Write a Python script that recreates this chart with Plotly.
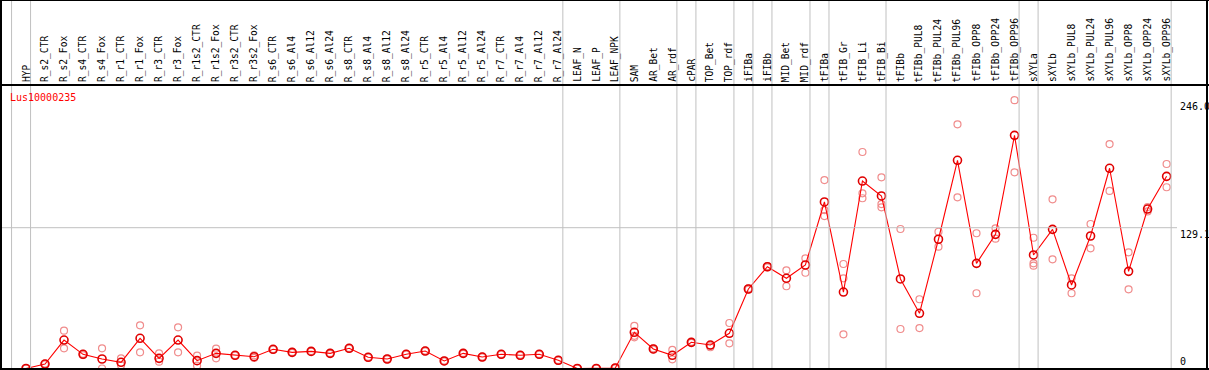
import plotly.graph_objects as go

W, H = 1209, 370

categories = ["HYP", "R_s2_CTR", "R_s2_Fox", "R_s4_CTR", "R_s4_Fox", "R_r1_CTR", "R_r1_Fox",
              "R_r3_CTR", "R_r3_Fox", "R_r1s2_CTR", "R_r1s2_Fox", "R_r3s2_CTR", "R_r3s2_Fox",
              "R_s6_CTR", "R_s6_Al4", "R_s6_Al12", "R_s6_Al24", "R_s8_CTR", "R_s8_Al4",
              "R_s8_Al12", "R_s8_Al24", "R_r5_CTR", "R_r5_Al4", "R_r5_Al12", "R_r5_Al24",
              "R_r7_CTR", "R_r7_Al4", "R_r7_Al12", "R_r7_Al24", "LEAF_N", "LEAF_P", "LEAF_NPK",
              "SAM", "AR_Bet", "AR_rdf", "cPAR", "TOP_Bet", "TOP_rdf", "iFIBa", "iFIBb",
              "MID_Bet", "MID_rdf", "tFIBa", "tFIB_Gr", "tFIB_Li", "tFIB_Bi", "tFIBb",
              "tFIBb_PUL8", "tFIBb_PUL24", "tFIBb_PUL96", "tFIBb_OPP8", "tFIBb_OPP24", "tFIBb_OPP96",
              "sXYLa", "sXYLb", "sXYLb_PUL8", "sXYLb_PUL24", "sXYLb_PUL96", "sXYLb_OPP8",
              "sXYLb_OPP24", "sXYLb_OPP96"]

mean_values = [0.0, 4.1, 26.1, 13.0, 8.7, 5.7, 27.7, 9.3, 26.1, 7.2, 13.9, 12.1, 10.8,
               17.6, 14.8, 15.7, 13.9, 18.5, 10.3, 8.7, 13.0, 16.0, 6.9, 13.9, 10.5,
               13.0, 12.1, 13.0, 7.5, 0.0, 0.0, 0.5,
               33.2, 17.9, 12.1, 24.0, 21.5, 32.3, 72.9, 93.3, 82.7, 94.9,
               152.7, 70.1, 171.9, 158.2, 82.1,
               50.6, 118.5, 190.9, 96.4, 123.0, 213.8,
               104.1, 127.6, 76.6, 121.5, 183.6, 89.1, 146.2, 176.2]

rep_a = [0.0, 4.5, 34.7, 13.5, 18.5, 9.3, 39.6, 13.9, 37.8, 11.8, 18.2, 12.4, 12.0,
         17.9, 15.2, 16.0, 14.3, 18.9, 10.7, 9.1, 13.4, 16.4, 7.3, 14.3, 10.9,
         13.4, 12.5, 13.4, 7.9, 0.0, 0.0, 0.8,
         39.0, 18.5, 17.0, 24.5, 19.5, 41.7, 73.4, 93.8, 90.0, 101.0,
         172.8, 95.8, 198.5, 175.3, 127.9,
         63.5, 125.4, 223.9, 124.0, 128.5, 246.0,
         119.9, 155.1, 82.7, 132.5, 205.8, 106.5, 148.0, 187.5]

rep_b = [0.0, 3.7, 18.5, 12.3, 0.0, 2.9, 14.8, 6.3, 14.8, 2.6, 9.3, 11.8, 9.7,
         17.3, 14.4, 15.4, 13.5, 18.1, 9.9, 8.3, 12.6, 15.6, 6.5, 13.5, 10.1,
         12.6, 11.7, 12.6, 7.1, 0.0, 0.0, 0.2,
         28.6, 17.3, 8.4, 23.5, 21.0, 23.1, 72.4, 92.8, 75.4, 87.8,
         139.8, 31.3, 156.1, 147.8, 36.2,
         37.1, 111.7, 157.0, 69.0, 119.0, 179.9,
         96.4, 100.1, 69.0, 110.2, 162.8, 72.6, 144.0, 166.2]

rep_c = [None] * 32 + [30.0] + [None] * 9 + [145.3, 82.7, 160.6, 150.8] + [None] * 7 + [94.3] + [None] * 7

group_ends = [-1, 0, 28, 31, 34, 35, 37, 38, 39, 41, 42, 45, 52, 53, 60]
axis_marks = [246.0, 129.1, 0.0]
gene_id = "Lus10000235"

# pixel geometry helpers (layout only)
X0, DX = 26.0, 19.01
Y0, DY = 368.5, 1.0906
x_range = [-X0 / DX, (W - X0) / DX]
y_range = [(Y0 - H) / DY, Y0 / DY]


def px(v):
    return v / W


def py(v):
    return 1 - v / H


idx = list(range(len(categories)))
fig = go.Figure()

for reps in (rep_a, rep_b, rep_c):
    fig.add_trace(go.Scatter(
        x=idx, y=reps, mode="markers", hoverinfo="skip",
        marker=dict(symbol="circle-open", size=7, color="#f08c8c", line=dict(width=1.2)),
        showlegend=False))

fig.add_trace(go.Scatter(
    x=idx, y=mean_values, mode="lines+markers",
    line=dict(color="#ff0000", width=1.1),
    marker=dict(symbol="circle-open", size=8, color="#e00000", line=dict(width=1.6)),
    showlegend=False))

shapes = []
for g in group_ends:
    shapes.append(dict(type="line", xref="x", yref="paper", x0=g + 0.24, x1=g + 0.24,
                       y0=py(369), y1=1, line=dict(color="#c0c0c0", width=1)))
shapes.append(dict(type="line", xref="paper", yref="y", x0=px(1), x1=px(1177),
                   y0=axis_marks[1], y1=axis_marks[1], line=dict(color="#c0c0c0", width=1)))
blk = dict(color="black", width=2)
shapes += [
    dict(type="line", xref="paper", yref="paper", x0=px(1), x1=px(1), y0=py(0), y1=py(370), line=blk),
    dict(type="line", xref="paper", yref="paper", x0=px(1207), x1=px(1207), y0=py(0), y1=py(370), line=blk),
    dict(type="line", xref="paper", yref="paper", x0=0, x1=1, y0=py(0.5), y1=py(0.5), line=dict(color="black", width=1)),
    dict(type="line", xref="paper", yref="paper", x0=0, x1=1, y0=py(85), y1=py(85), line=blk),
    dict(type="line", xref="paper", yref="paper", x0=0, x1=1, y0=py(369), y1=py(369), line=blk),
]

annotations = []
mono = "DejaVu Sans Mono"
for i, c in enumerate(categories):
    annotations.append(dict(x=i, y=py(83), xref="x", yref="paper", text=c, showarrow=False,
                            textangle=-90, xanchor="center", yanchor="bottom",
                            font=dict(family=mono, size=9.6, color="black"), borderpad=0))
annotations.append(dict(x=px(8), y=py(97), xref="paper", yref="paper", text=gene_id, showarrow=False,
                        xanchor="left", yanchor="middle", font=dict(family=mono, size=10, color="#ff0000")))
for v in axis_marks:
    lab = "0" if v == 0 else f"{v:.1f}"
    if v == 0:
        annotations.append(dict(x=px(1178), y=v, xref="paper", yref="y", text=lab, showarrow=False,
                                xanchor="left", yanchor="bottom",
                                font=dict(family=mono, size=10, color="black")))
    else:
        annotations.append(dict(x=px(1178), y=v, xref="paper", yref="y", text=lab, showarrow=False,
                                xanchor="left", yanchor="top", yshift=1,
                                font=dict(family=mono, size=10, color="black")))

fig.update_layout(
    width=W, height=H, margin=dict(l=0, r=0, t=0, b=0),
    paper_bgcolor="white", plot_bgcolor="white",
    xaxis=dict(range=x_range, visible=False, domain=[0, 1]),
    yaxis=dict(range=y_range, visible=False, domain=[0, 1]),
    shapes=shapes, annotations=annotations,
    hovermode=False,
)

fig.write_html("out.html", config={"displayModeBar": False, "staticPlot": True},
               post_script="document.body.style.margin='0';document.body.style.overflow='hidden';")
